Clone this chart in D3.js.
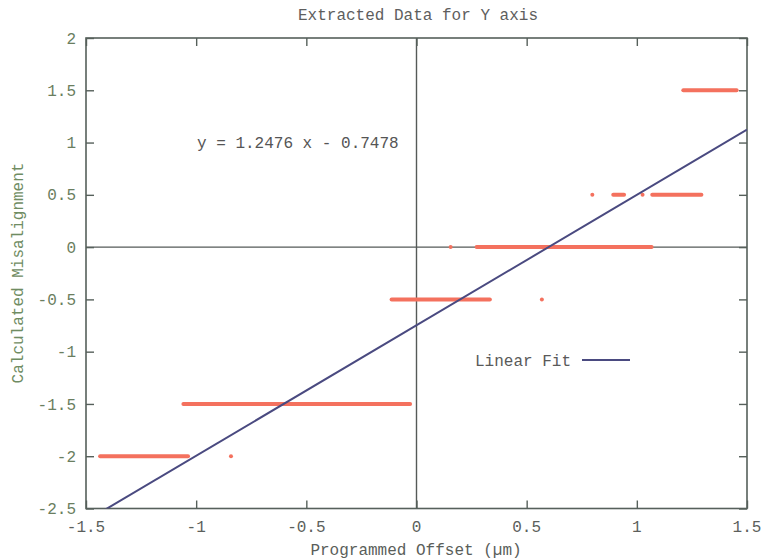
<!DOCTYPE html>
<html>
<head>
<meta charset="utf-8">
<script src="https://cdn.jsdelivr.net/npm/d3@7/dist/d3.min.js"></script>
<style>
  html, body { margin: 0; padding: 0; background: #ffffff; }
  svg { display: block; }
  text { font-family: "Liberation Mono", "DejaVu Sans Mono", monospace; font-size: 16px; }
</style>
</head>
<body>
<svg id="chart" width="767" height="560"></svg>
<script>
// ---- data ----
// Runs of densely sampled points: each run spans runStart..runEnd at level runY
const runStart = [-1.436, -0.842, -1.058, -0.113, 0.569, 0.155, 0.273, 0.798, 0.893, 1.026, 1.070, 1.211];
const runEnd   = [-1.037, -0.842, -0.029,  0.333, 0.569, 0.155, 1.067, 0.798, 0.942, 1.026, 1.293, 1.453];
const runY     = [-2.0,   -2.0,   -1.5,   -0.5,  -0.5,   0.0,   0.0,   0.5,   0.5,   0.5,   0.5,   1.5];

const fitSlope = 1.2476;
const fitIntercept = -0.7478;
const fitLabel = "y = 1.2476 x - 0.7478";

const xTicks = [-1.5, -1, -0.5, 0, 0.5, 1, 1.5];
const yTicks = [-2.5, -2, -1.5, -1, -0.5, 0, 0.5, 1, 1.5, 2];
const xDomain = [-1.5, 1.5];
const yDomain = [-2.5, 2];

const titleText = "Extracted Data for Y axis";
const xLabel = "Programmed Offset (\u00b5m)";
const yLabel = "Calculated Misalignment";
const legendLabel = "Linear Fit";

(function () {
// ---- layout ----
const pL = 86, pR = 747, pT = 38, pB = 508.5;
const svg = d3.select("#chart");
const x = d3.scaleLinear().domain(xDomain).range([pL, pR]);
const y = d3.scaleLinear().domain(yDomain).range([pB, pT]);

const frameColor = "#56605b";
const pointColor = "#f4715e";
const fitColor = "#4a4a80";

svg.append("defs").append("clipPath").attr("id", "plotClip")
  .append("rect").attr("x", pL).attr("y", pT)
  .attr("width", pR - pL).attr("height", pB - pT);

// zero axes
svg.append("line").attr("x1", x(0)).attr("x2", x(0)).attr("y1", pT).attr("y2", pB)
  .attr("stroke", "#555a58").attr("stroke-width", 1.4);
svg.append("line").attr("x1", pL).attr("x2", pR).attr("y1", y(0)).attr("y2", y(0))
  .attr("stroke", "#555a58").attr("stroke-width", 1.4);

// axes with inward ticks
const tickLen = 8;
const gB = svg.append("g").attr("transform", `translate(0,${pB})`)
  .call(d3.axisTop(x).tickValues(xTicks).tickSize(tickLen).tickFormat(""));
const gT = svg.append("g").attr("transform", `translate(0,${pT})`)
  .call(d3.axisBottom(x).tickValues(xTicks).tickSize(tickLen).tickFormat(""));
const gL = svg.append("g").attr("transform", `translate(${pL},0)`)
  .call(d3.axisRight(y).tickValues(yTicks).tickSize(tickLen).tickFormat(""));
const gR = svg.append("g").attr("transform", `translate(${pR},0)`)
  .call(d3.axisLeft(y).tickValues(yTicks).tickSize(tickLen).tickFormat(""));
[gB, gT, gL, gR].forEach(g => {
  g.select(".domain").remove();
  g.selectAll(".tick line").attr("stroke", frameColor).attr("stroke-width", 1.4);
});

// frame
svg.append("rect").attr("x", pL).attr("y", pT)
  .attr("width", pR - pL).attr("height", pB - pT)
  .attr("fill", "none").attr("stroke", frameColor).attr("stroke-width", 1.6);

// tick labels
svg.append("g").selectAll("text").data(xTicks).join("text")
  .attr("x", d => x(d)).attr("y", 532)
  .attr("text-anchor", "middle").attr("fill", "#5c5f5c")
  .text(d => String(d));
svg.append("g").selectAll("text").data(yTicks).join("text")
  .attr("x", 76).attr("y", d => y(d)).attr("dy", "0.35em")
  .attr("text-anchor", "end").attr("fill", "#6a7e60")
  .text(d => String(d));

// data runs
const plot = svg.append("g").attr("clip-path", "url(#plotClip)");
plot.append("g").selectAll("line").data(runStart.map((s, i) => i)).join("line")
  .attr("x1", i => x(runStart[i])).attr("x2", i => x(runEnd[i]))
  .attr("y1", i => y(runY[i])).attr("y2", i => y(runY[i]))
  .attr("stroke", pointColor).attr("stroke-width", 4)
  .attr("stroke-linecap", "round");

// fit line
const fitPts = xDomain.map(v => [v, fitSlope * v + fitIntercept]);
plot.append("path")
  .attr("d", d3.line().x(d => x(d[0])).y(d => y(d[1]))(fitPts))
  .attr("fill", "none").attr("stroke", fitColor).attr("stroke-width", 2);

// equation label
svg.append("text").attr("x", 197).attr("y", 148).attr("fill", "#555")
  .text(fitLabel);

// legend
svg.append("text").attr("x", 571).attr("y", 366).attr("text-anchor", "end")
  .attr("fill", "#5a5a5a").text(legendLabel);
svg.append("line").attr("x1", 582).attr("x2", 630).attr("y1", 360).attr("y2", 360)
  .attr("stroke", fitColor).attr("stroke-width", 2);

// title and axis labels
svg.append("text").attr("x", 418).attr("y", 20).attr("text-anchor", "middle")
  .attr("fill", "#5e5e5e").text(titleText);
svg.append("text").attr("x", 416).attr("y", 555).attr("text-anchor", "middle")
  .attr("fill", "#5a5e5a").text(xLabel);
svg.append("text").attr("transform", "translate(23,273) rotate(-90)")
  .attr("text-anchor", "middle").attr("fill", "#6f8c62").text(yLabel);
})();
</script>
</body>
</html>
